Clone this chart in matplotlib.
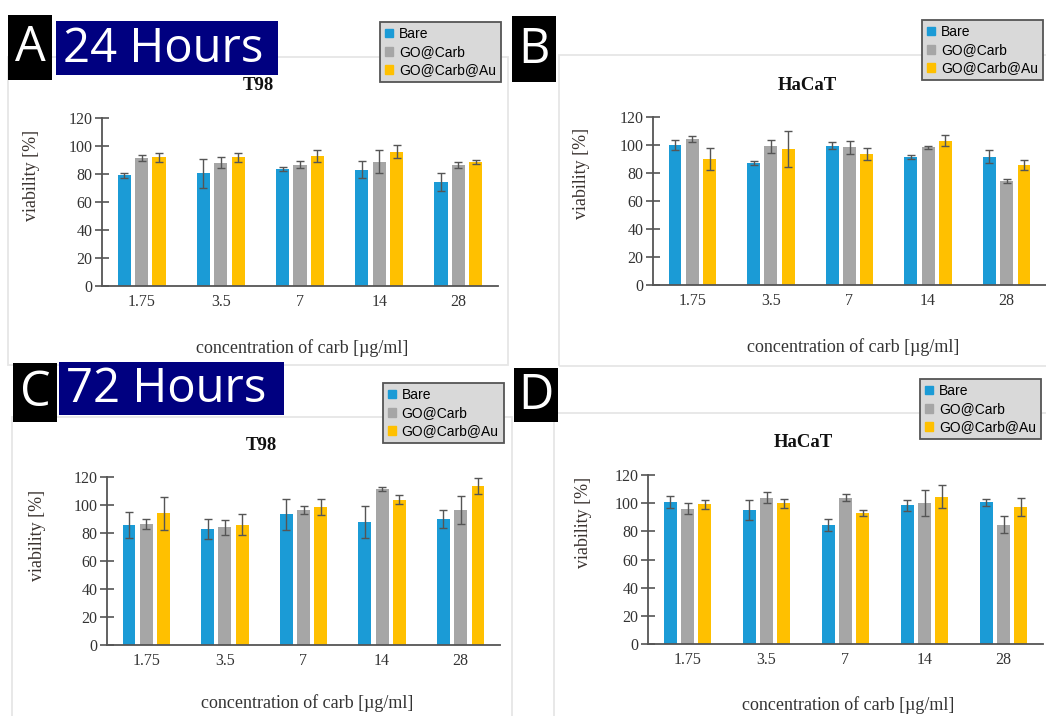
# Cell viability panels A-D (24 h / 72 h, T98 / HaCaT)

import numpy as np
import matplotlib.pyplot as plt
from matplotlib.patches import Rectangle, Patch

W, H = 1046, 716

# Data
concentrations = ["1.75", "3.5", "7", "14", "28"]
series_names = ["Bare", "GO@Carb", "GO@Carb@Au"]

a_bare = [79, 80.5, 83.5, 83, 74.5]
a_bare_err = [1.5, 10.5, 1.5, 6, 6.3]
a_go = [91.5, 88, 86.6, 88.8, 86.6]
a_go_err = [2, 3.8, 2.5, 8, 2]
a_au = [92, 92, 92.8, 96, 88.8]
a_au_err = [3.3, 3.2, 4.4, 4.4, 1.3]

b_bare = [100, 87, 99.5, 91.6, 91.6]
b_bare_err = [3.8, 1.5, 2.6, 1.6, 4.5]
b_go = [104.5, 99, 98.3, 98.3, 74.5]
b_go_err = [2.1, 4.4, 4.5, 0.8, 1.5]
b_au = [90, 97, 93.8, 103, 86]
b_au_err = [7.8, 12.8, 4.4, 3.8, 3.5]

c_bare = [85.7, 83, 93.3, 87.8, 90]
c_bare_err = [9.2, 7, 11, 11.5, 6.3]
c_go = [86.4, 84, 96.4, 111.5, 96.4]
c_go_err = [3.6, 5.5, 2.8, 1.5, 10]
c_au = [94, 86, 98.6, 103.8, 113.4]
c_au_err = [12, 7.6, 5.4, 3, 5.6]

d_bare = [100.6, 95.4, 84.7, 98.5, 100.6]
d_bare_err = [4.3, 7, 4.4, 3.8, 2.4]
d_go = [96, 104, 104, 100, 84.7]
d_go_err = [3.9, 3.9, 2.4, 9.3, 6]
d_au = [99.4, 100, 93, 104.6, 97]
d_au_err = [3.2, 3.2, 2.2, 8, 6.4]

colors = ["#1b9bd6", "#a6a6a6", "#ffc000"]
SERIF = "Liberation Serif"
SANS = "Liberation Sans"

fig = plt.figure(figsize=(W / 100, H / 100), dpi=100)


def fx(x):
    return x / W


def fy(y):
    return 1 - y / H


def rect(x0, y0, x1, y1, **kw):
    fig.patches.append(Rectangle((fx(x0), fy(y1)), fx(x1) - fx(x0), fy(y0) - fy(y1),
                                 transform=fig.transFigure, **kw))


def panel(box, frame, values, errs, title_xy, title, xlab_xy, ylab_xy, legend_xy):
    x0, y0, x1, y1 = box
    rect(*frame, fill=False, edgecolor="#e6e6e6", linewidth=1.3, zorder=0)
    ax = fig.add_axes([fx(x0), fy(y1), fx(x1) - fx(x0), fy(y0) - fy(y1)])
    ax.patch.set_alpha(0)
    x = np.arange(len(concentrations))
    for i, (v, e) in enumerate(zip(values, errs)):
        ax.bar(x + (i - 1) * 0.22, v, 0.165, yerr=e, color=colors[i],
               capsize=3, error_kw=dict(ecolor="#555555", elinewidth=1, capthick=1))
    ax.set_xlim(-0.5, len(concentrations) - 0.5)
    ax.set_ylim(0, 120)
    ax.set_yticks(range(0, 121, 20))
    ax.set_xticks(x)
    ax.set_xticklabels(concentrations)
    for s in ["top", "right"]:
        ax.spines[s].set_visible(False)
    for s in ["left", "bottom"]:
        ax.spines[s].set_color("#555555")
        ax.spines[s].set_linewidth(1.3)
    ax.tick_params(axis="y", direction="inout", length=10, width=1.2, color="#555555",
                   labelsize=11.5, labelcolor="#333333", pad=2)
    ax.tick_params(axis="x", length=0, labelsize=11.5, labelcolor="#333333", pad=6)
    for lab in ax.get_xticklabels() + ax.get_yticklabels():
        lab.set_family(SERIF)
    fig.text(fx(title_xy[0]), fy(title_xy[1]), title, family=SERIF, weight="bold",
             fontsize=13.5, ha="center", va="center", color="#111111")
    fig.text(fx(xlab_xy[0]), fy(xlab_xy[1]), "concentration of carb [µg/ml]", family=SERIF,
             fontsize=13, ha="center", va="center", color="#333333")
    fig.text(fx(ylab_xy[0]), fy(ylab_xy[1]), "viability [%]", family=SERIF,
             fontsize=13, ha="center", va="center", rotation=90, color="#3a3330")
    handles = [Patch(color=c) for c in colors]
    leg = fig.legend(handles, series_names, loc="upper left",
                     bbox_to_anchor=(fx(legend_xy[0]), fy(legend_xy[1])),
                     bbox_transform=fig.transFigure, borderaxespad=0,
                     prop=dict(family=SANS, size=10), handlelength=0.6, handleheight=0.6,
                     handletextpad=0.4, labelspacing=0.3, borderpad=0.35,
                     fancybox=False, framealpha=1)
    leg.get_frame().set_facecolor("#d9d9d9")
    leg.get_frame().set_edgecolor("#555555")
    leg.get_frame().set_linewidth(1.3)
    return ax


panel((102, 118, 498, 286), (8, 57, 508, 365), [a_bare, a_go, a_au], [a_bare_err, a_go_err, a_au_err],
      (258, 86), "T98", (302, 348), (32, 175), (380, 22))
panel((653, 117, 1046, 285), (559, 55, 1052, 366), [b_bare, b_go, b_au], [b_bare_err, b_go_err, b_au_err],
      (807, 85), "HaCaT", (853, 347), (582, 173), (922, 20))
panel((107, 477, 500, 645), (12, 417, 512, 730), [c_bare, c_go, c_au], [c_bare_err, c_go_err, c_au_err],
      (261, 445), "T98", (307, 703), (37, 535), (383, 383))
panel((648, 475, 1043, 644), (554, 413, 1052, 730), [d_bare, d_go, d_au], [d_bare_err, d_go_err, d_au_err],
      (803, 442), "HaCaT", (848, 705), (583, 522), (920, 379))

# panel letters and time headers
letters = [("A", (8, 15, 52, 80)), ("B", (512, 16, 556, 82)),
           ("C", (13, 363, 57, 422)), ("D", (514, 368, 558, 422))]
for txt, (x0, y0, x1, y1) in letters:
    rect(x0, y0, x1, y1, facecolor="black", edgecolor="none", zorder=5)
    fig.text(fx((x0 + x1) / 2), fy((y0 + y1) / 2 + 1), txt, family="Open Sans", fontsize=35,
             color="white", ha="center", va="center", zorder=6)

headers = [("24 Hours", (56, 21, 278, 75)), ("72 Hours", (59, 362, 284, 415))]
for txt, (x0, y0, x1, y1) in headers:
    rect(x0, y0, x1, y1, facecolor="#000080", edgecolor="none", zorder=5)
    fig.text(fx(x0 + 7), fy((y0 + y1) / 2 + 1), txt, family="Open Sans", fontsize=34,
             color="white", ha="left", va="center", zorder=6)

fig.savefig("out.png", dpi=100)
